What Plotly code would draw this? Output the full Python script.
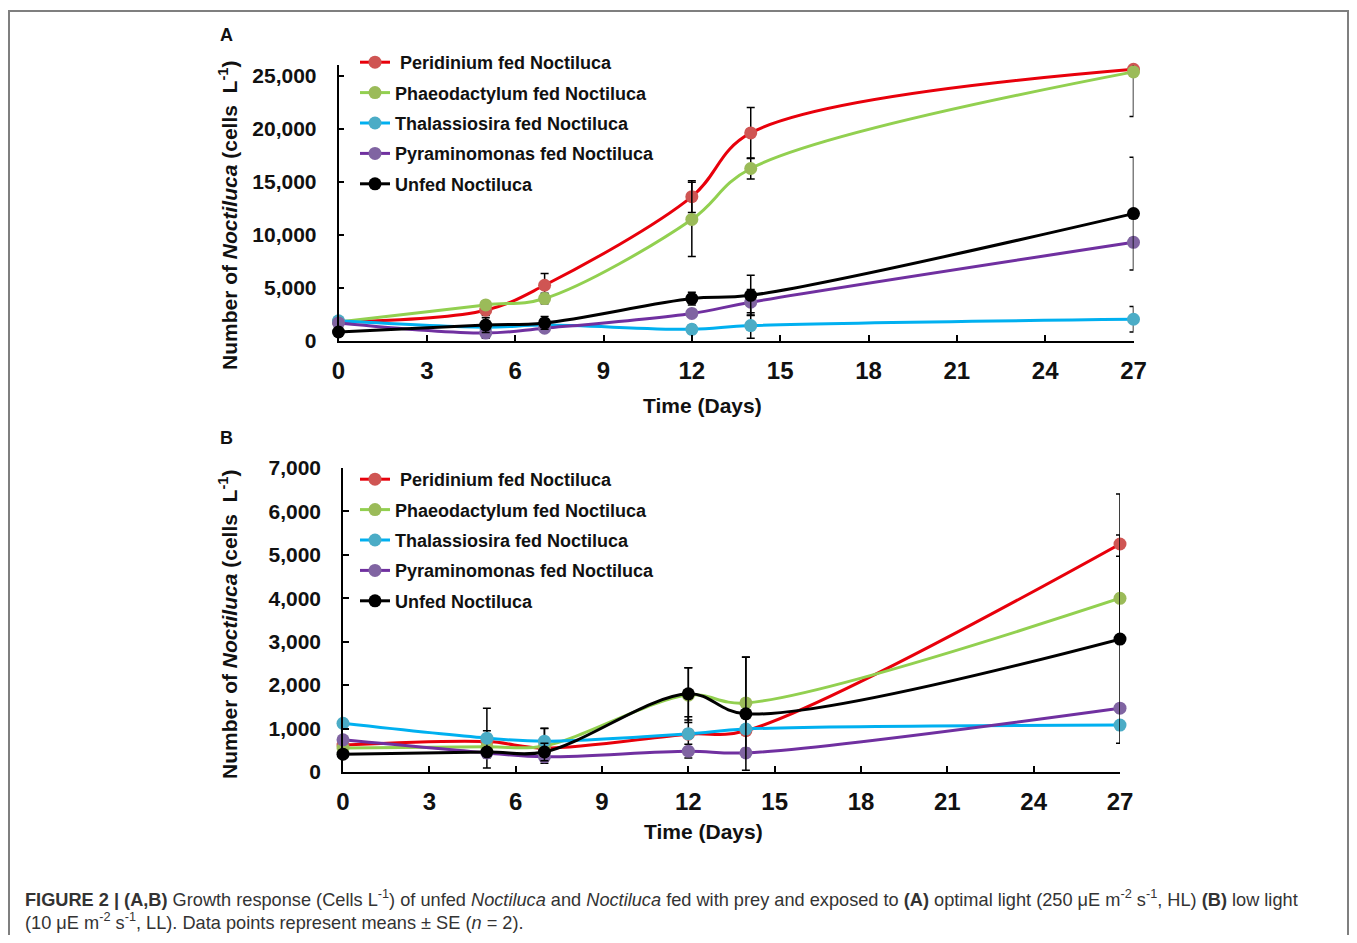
import plotly.graph_objects as go

# page is 1357x943; the body keeps its default 8px margin, so the figure is 1341x927
PAGE_W, PAGE_H = 1357, 943
OFF = 8
FW, FH = PAGE_W - 2 * OFF, PAGE_H - 2 * OFF

# ---------------- data ----------------
days = [0, 5, 7, 12, 14, 27]
series_names = [
    "\u00a0Peridinium fed Noctiluca",
    "Phaeodactylum fed Noctiluca",
    "Thalassiosira fed Noctiluca",
    "Pyraminomonas fed Noctiluca",
    "Unfed Noctiluca",
]

# Panel A (HL)
peridinium_A = [1800, 2900, 5250, 13600, 19600, 25600]
peridinium_A_err = [150, 500, 1100, 1500, 2400, 300]
phaeo_A = [1800, 3400, 4000, 11450, 16250, 25350]
phaeo_A_err = [150, 300, 500, 3500, 1000, 4200]
thal_A = [1900, 1300, 1500, 1100, 1450, 2050]
thal_A_err = [150, 300, 200, 400, 1200, 1200]
pyr_A = [1700, 750, 1200, 2600, 3650, 9300]
pyr_A_err = [150, 500, 200, 300, 1200, 400]
unfed_A = [850, 1500, 1700, 4000, 4300, 12000]
unfed_A_err = [100, 700, 600, 600, 1900, 5300]

# Panel B (LL)
peridinium_B = [620, 700, 550, 870, 950, 5250]
peridinium_B_err = [50, 250, 100, 400, 100, 1150]
phaeo_B = [550, 580, 600, 1770, 1590, 4000]
phaeo_B_err = [50, 250, 400, 630, 1060, 970]
thal_B = [1120, 780, 710, 880, 990, 1080]
thal_B_err = [50, 690, 300, 100, 100, 100]
pyr_B = [740, 440, 350, 480, 440, 1470]
pyr_B_err = [50, 100, 100, 160, 100, 100]
unfed_B = [410, 460, 460, 1800, 1340, 3060]
unfed_B_err = [50, 100, 200, 600, 1300, 2400]

x_ticks = [0, 3, 6, 9, 12, 15, 18, 21, 24, 27]
y_ticks_A = [0, 5000, 10000, 15000, 20000, 25000]
y_ticks_B = [0, 1000, 2000, 3000, 4000, 5000, 6000, 7000]

line_colors = ["#e8000b", "#92d050", "#00b0f0", "#7030a0", "#000000"]
marker_colors = ["#cf5553", "#9bbb59", "#4bacc6", "#8064a2", "#000000"]

panel_A = [(peridinium_A, peridinium_A_err), (phaeo_A, phaeo_A_err), (thal_A, thal_A_err),
           (pyr_A, pyr_A_err), (unfed_A, unfed_A_err)]
panel_B = [(peridinium_B, peridinium_B_err), (phaeo_B, phaeo_B_err), (thal_B, thal_B_err),
           (pyr_B, pyr_B_err), (unfed_B, unfed_B_err)]


def fx(p):
    """page pixel x -> paper fraction"""
    return (p - OFF) / FW


def fy(p):
    """page pixel y (from top) -> paper fraction"""
    return 1 - (p - OFF) / FH


fig = go.Figure()

for panel, xa, ya, leg, tag in [(panel_A, "x", "y", "legend", "A"),
                                (panel_B, "x2", "y2", "legend2", "B")]:
    for i, (vals, errs) in enumerate(panel):
        fig.add_trace(go.Scatter(
            x=days, y=vals, xaxis=xa, yaxis=ya, legend=leg,
            legendgroup=f"{tag}{i}",
            name=series_names[i], mode="lines+markers",
            line=dict(color=line_colors[i], width=3, shape="spline", smoothing=1),
            marker=dict(color=marker_colors[i], size=13, line=dict(width=0)),
            error_y=dict(type="data", array=errs, visible=True, color="black",
                         thickness=1.5, width=4),
            cliponaxis=False,
        ))

axis_common = dict(showline=True, linecolor="black", linewidth=1.5, ticks="inside",
                   ticklen=6, tickwidth=1.5, tickcolor="black", showgrid=False,
                   zeroline=False, mirror=False, automargin=False)
xfont = dict(family="Liberation Sans, Arial", size=24, color="#111111", weight="bold")
yfont = dict(family="Liberation Sans, Arial", size=21, color="#111111", weight="bold")
legfont = dict(family="Liberation Sans, Arial", size=18, color="#111111", weight="bold")

fig.update_layout(
    template="none",
    width=FW, height=FH, margin=dict(l=0, r=0, t=0, b=0, autoexpand=False),
    plot_bgcolor="white", paper_bgcolor="white",
    xaxis=dict(domain=[fx(338.5), fx(1133.5)], range=[0, 27], tickvals=x_ticks,
               anchor="y", tickfont=xfont, ticklabelstandoff=7, **axis_common),
    yaxis=dict(domain=[fy(341), fy(65)], range=[0, 26000], tickvals=y_ticks_A,
               tickformat=",d", anchor="x", tickfont=yfont, ticklabelstandoff=16, **axis_common),
    xaxis2=dict(domain=[fx(343), fx(1120)], range=[0, 27], tickvals=x_ticks,
                anchor="y2", tickfont=xfont, ticklabelstandoff=7, **axis_common),
    yaxis2=dict(domain=[fy(772), fy(468)], range=[0, 7000], tickvals=y_ticks_B,
                tickformat=",d", anchor="x2", tickfont=yfont, ticklabelstandoff=16, **axis_common),
    legend=dict(x=fx(355), y=fy(44), xanchor="left", yanchor="top",
                bgcolor="rgba(0,0,0,0)", borderwidth=0, tracegroupgap=4,
                itemsizing="trace", font=legfont),
    legend2=dict(x=fx(355), y=fy(461), xanchor="left", yanchor="top",
                 bgcolor="rgba(0,0,0,0)", borderwidth=0, tracegroupgap=4,
                 itemsizing="trace", font=legfont),
    showlegend=True,
)

title_font = dict(family="Liberation Sans, Arial", size=21, color="#111111", weight="bold")
ytitle_font = dict(family="Liberation Sans, Arial", size=21, color="#111111", weight="bold")
ytitle = "Number of <i>Noctiluca</i> (cells  L<sup>-1</sup>)"
letter_font = dict(family="Liberation Sans, Arial", size=18, color="#111111", weight="bold")

annots = [
    dict(text="Time (Days)", x=fx(702), y=fy(405), font=title_font),
    dict(text="Time (Days)", x=fx(703), y=fy(831), font=title_font),
    dict(text=ytitle, x=fx(228), y=fy(216), font=ytitle_font, textangle=-90),
    dict(text=ytitle, x=fx(228), y=fy(625), font=ytitle_font, textangle=-90),
    dict(text="A", x=fx(226), y=fy(35), font=letter_font),
    dict(text="B", x=fx(226), y=fy(438), font=letter_font),
]
cap_font = dict(family="Liberation Sans, Arial", size=18.2, color="#333333")
annots.append(dict(
    text="<b>FIGURE 2 | (A,B)</b> Growth response (Cells L<sup>-1</sup>) of unfed <i>Noctiluca</i> and "
         "<i>Noctiluca</i> fed with prey and exposed to <b>(A)</b> optimal light (250 \u03bcE m<sup>-2</sup> "
         "s<sup>-1</sup>, HL) <b>(B)</b> low light",
    x=fx(23), y=fy(898), xanchor="left", font=cap_font))
annots.append(dict(
    text="(10 \u03bcE m<sup>-2</sup> s<sup>-1</sup>, LL). Data points represent means \u00b1 SE (<i>n</i> = 2).",
    x=fx(23), y=fy(921), xanchor="left", font=cap_font))

for a in annots:
    a.setdefault("xanchor", "center")
    a.update(xref="paper", yref="paper", showarrow=False, yanchor="middle")
    fig.add_annotation(**a)

# outer frame of the figure panel
fig.add_shape(type="rect", xref="paper", yref="paper",
              x0=fx(9), x1=fx(1348), y0=fy(11), y1=fy(990),
              line=dict(color="#7f7f7f", width=2), fillcolor="rgba(0,0,0,0)", layer="below")

fig.write_html("out.html", config={"displayModeBar": False})
